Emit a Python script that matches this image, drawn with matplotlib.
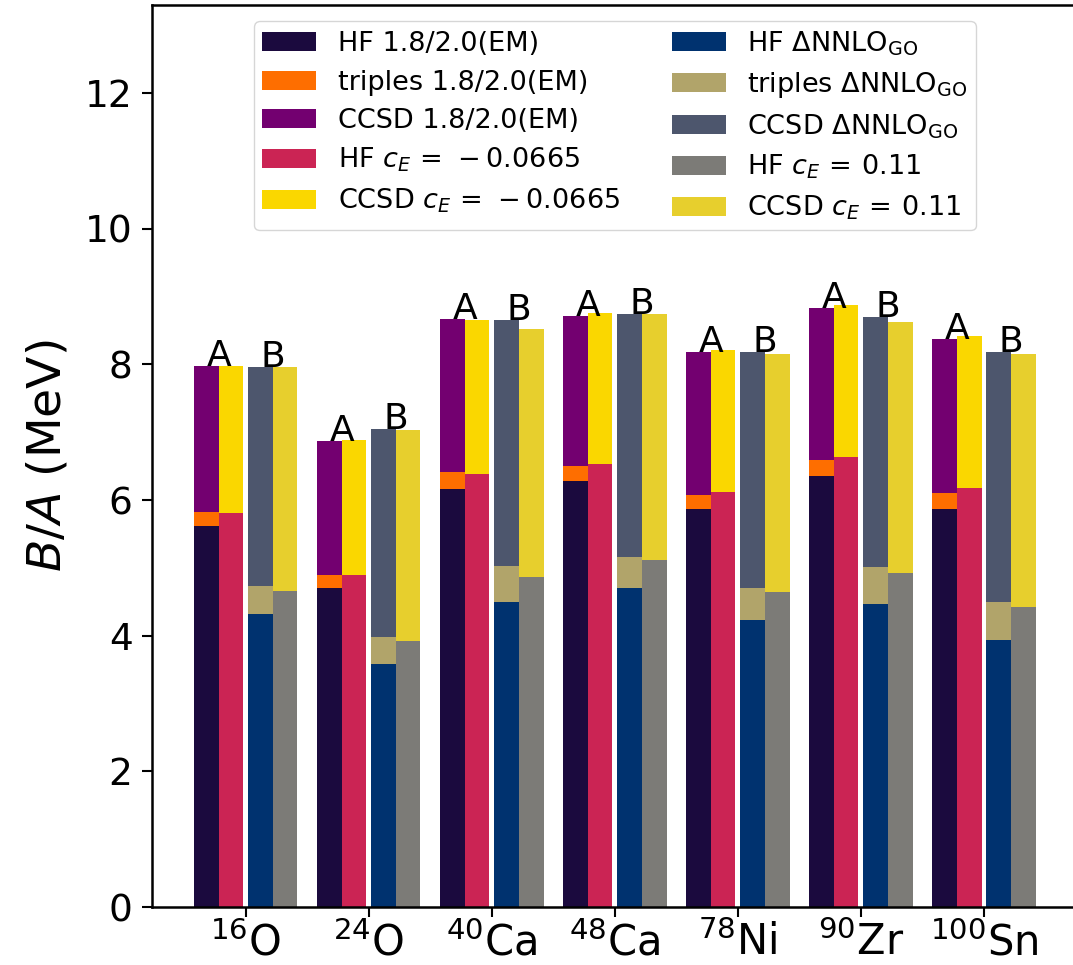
# Binding energy per nucleon, HF + triples + CCSD stacked bars
from matplotlib import pyplot as plt
import numpy as np

nuclei = [r'$^{16}$O', r'$^{24}$O', r'$^{40}$Ca', r'$^{48}$Ca',
          r'$^{78}$Ni', r'$^{90}$Zr', r'$^{100}$Sn']

# 1.8/2.0(EM): HF, triples and CCSD contributions (MeV)
hf_em = [5.62, 4.70, 6.16, 6.28, 5.87, 6.35, 5.87]
trip_em = [0.21, 0.20, 0.26, 0.23, 0.20, 0.24, 0.24]
ccsd_em = [2.15, 1.97, 2.25, 2.21, 2.11, 2.24, 2.26]

# c_E = -0.0665
hf_cm = [5.81, 4.90, 6.38, 6.53, 6.12, 6.63, 6.18]
ccsd_cm = [2.17, 1.99, 2.28, 2.23, 2.10, 2.24, 2.24]

# Delta NNLO_GO
hf_go = [4.32, 3.58, 4.49, 4.71, 4.23, 4.47, 3.94]
trip_go = [0.41, 0.40, 0.54, 0.45, 0.48, 0.54, 0.55]
ccsd_go = [3.23, 3.07, 3.63, 3.58, 3.48, 3.69, 3.69]

# c_E = 0.11
hf_cp = [4.66, 3.92, 4.86, 5.12, 4.64, 4.92, 4.42]
ccsd_cp = [3.30, 3.11, 3.66, 3.62, 3.52, 3.71, 3.73]

x = np.arange(len(nuclei))
w = 0.2

fig = plt.figure(figsize=(10.73, 9.65), dpi=100)
ax = fig.add_axes([0.1417, 0.0601, 0.8627, 0.9347])

# group A
b1 = np.array(hf_em)
b2 = b1 + np.array(trip_em)
ax.bar(x - 0.32, hf_em, w, color='#1b0a3e', label='HF 1.8/2.0(EM)')
ax.bar(x - 0.32, trip_em, w, bottom=b1, color='#fe6e00', label='triples 1.8/2.0(EM)')
ax.bar(x - 0.32, ccsd_em, w, bottom=b2, color='#730070', label='CCSD 1.8/2.0(EM)')
ax.bar(x - 0.12, hf_cm, w, color='#cb2454', label=r'HF $c_E\,=\,-0.0665$')
ax.bar(x - 0.12, ccsd_cm, w, bottom=hf_cm, color='#fad700', label=r'CCSD $c_E\,=\,-0.0665$')

# group B
g1 = np.array(hf_go)
g2 = g1 + np.array(trip_go)
ax.bar(x + 0.12, hf_go, w, color='#00326f', label=r'HF $\Delta$NNLO$_{\rm GO}$')
ax.bar(x + 0.12, trip_go, w, bottom=g1, color='#b1a46a', label=r'triples $\Delta$NNLO$_{\rm GO}$')
ax.bar(x + 0.12, ccsd_go, w, bottom=g2, color='#4d566d', label=r'CCSD $\Delta$NNLO$_{\rm GO}$')
ax.bar(x + 0.32, hf_cp, w, color='#7c7b77', label=r'HF $c_E\,=\,0.11$')
ax.bar(x + 0.32, ccsd_cp, w, bottom=hf_cp, color='#e7cf2d', label=r'CCSD $c_E\,=\,0.11$')

# A / B markers on top of the bars
top_a = b2 + np.array(ccsd_em)
top_b = g2 + np.array(ccsd_go)
for i in range(len(nuclei)):
    ax.text(x[i] - 0.22, top_a[i], 'A', ha='center', va='baseline', fontsize=26)
    ax.text(x[i] + 0.22, top_b[i], 'B', ha='center', va='baseline', fontsize=26)

ax.set_ylim(0, 13.3)
ax.set_xticks(x)
ax.set_xticklabels(nuclei, fontsize=30)
ax.tick_params(axis='y', labelsize=27, pad=7)
ax.tick_params(width=1.5, length=7)
for s in ax.spines.values():
    s.set_linewidth(1.8)
ax.spines['right'].set_visible(False)
ax.set_ylabel(r'$B/A$ (MeV)', fontsize=34, labelpad=10)

ax.legend(loc='upper center', ncol=2, fontsize=19.5, labelspacing=0.45,
          borderpad=0.3, borderaxespad=0.6, columnspacing=1.9)

plt.savefig('out.png', dpi=100)
